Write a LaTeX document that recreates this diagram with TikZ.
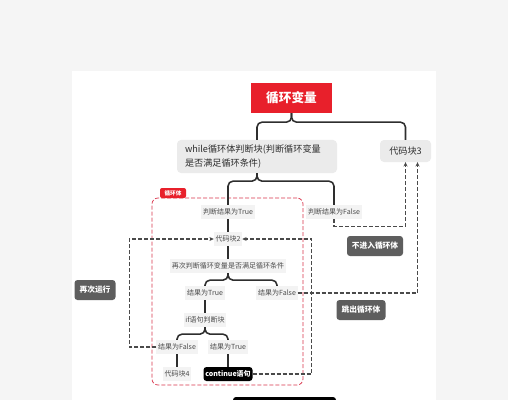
\documentclass[tikz,border=0pt]{standalone}
\usepackage{fontspec}
\setmainfont{Noto Sans CJK SC}
\usetikzlibrary{arrows.meta,positioning}
\definecolor{pagebg}{HTML}{F5F5F5}
\definecolor{loopred}{HTML}{E8202B}
\definecolor{boxgray}{HTML}{EBEBEB}
\definecolor{labelgray}{HTML}{F3F3F3}
\definecolor{ink}{HTML}{2E2E2E}
\definecolor{inkgray}{HTML}{4A4A4A}
\definecolor{cardgray}{HTML}{5E5E5E}
\definecolor{framered}{HTML}{D9344C}
\tikzset{
  titlebox/.style={fill=loopred,text=white,minimum width=40.5mm,minimum height=15mm,
                   inner sep=0pt,font=\fontsize{18}{20}\selectfont\bfseries},
  greybox/.style={fill=boxgray,rounded corners=2mm,inner sep=0pt,
                  font=\fontsize{13}{19}\selectfont,text=ink},
  steplabel/.style={fill=labelgray,minimum height=7mm,inner xsep=0.8mm,inner ysep=0pt,
                    font=\fontsize{10}{12}\selectfont,text=inkgray},
  darkcard/.style={fill=cardgray,text=white,rounded corners=1.5mm,minimum height=10mm,
                   inner sep=0pt,font=\fontsize{11}{13}\selectfont\bfseries},
  blackcard/.style={fill=black,text=white,rounded corners=1.5mm,minimum height=7mm,
                    minimum width=24.5mm,inner sep=0pt,font=\fontsize{10}{12}\selectfont\bfseries},
  looptag/.style={fill=loopred,text=white,rounded corners=1mm,minimum width=13mm,
                  minimum height=5mm,inner sep=0pt,font=\fontsize{8}{9}\selectfont\bfseries},
  loopframe/.style={draw=framered,dashed,dash pattern=on 2mm off 1mm,line width=1pt,
                    rounded corners=3mm,inner sep=0pt},
  tree/.style={draw=ink,line width=2.2pt,rounded corners=2.5mm},
  dasharr/.style={draw=inkgray,line width=1.6pt,dash pattern=on 2mm off 1mm,
                  -{Stealth[length=2.2mm,width=2mm]}},
  dashline/.style={draw=inkgray,line width=1.6pt,dash pattern=on 2mm off 1mm}
}
\begin{document}
\begin{tikzpicture}[x=0.5mm,y=-0.5mm]
  % page and panel
  \fill[pagebg] (0,0) rectangle (508,400);
  \useasboundingbox (0,0) rectangle (508,400);
  \fill[white] (72,71) rectangle (436,400);
  \begin{scope}
    \clip (0,0) rectangle (508,400);
    \fill[black,rounded corners=1.5mm] (233,397) rectangle (336,412);
  \end{scope}

  % top level
  \node[titlebox] (title) at (291.5,98) {循环变量};
  \node[greybox,minimum width=80mm,minimum height=16.5mm,text width=72mm,align=left]
    (whilebox) at (257,156.5) {while循环体判断块(判断循环变量\\是否满足循环条件)};
  \node[greybox,minimum width=25.5mm,minimum height=11mm] (code3) at (405.5,151) {代码块3};
  \draw[tree] (title.south) -- ++(0,9) -| (whilebox.north);
  \draw[tree] (title.south) -- ++(0,9) -| (code3.north);

  % loop body frame
  \node[loopframe,minimum width=75.5mm,minimum height=93.5mm] (loopbody) at (227.5,291.5) {};
  \node[looptag] (tag) at (173,193) {循环体};

  % inside the loop
  \node[steplabel] (t1) at (228,212) {判断结果为True};
  \node[steplabel] (f1) at (334,212) {判断结果为False};
  \node[steplabel] (code2) at (228,239) {代码块2};
  \node[steplabel] (recheck) at (228,266) {再次判断循环变量是否满足循环条件};
  \node[steplabel] (t2) at (205,293) {结果为True};
  \node[steplabel] (f2) at (277,293) {结果为False};
  \node[steplabel] (ifblock) at (205,320) {if语句判断块};
  \node[steplabel] (f3) at (177,347) {结果为False};
  \node[steplabel] (t3) at (228,347) {结果为True};
  \node[steplabel] (code4) at (177,374) {代码块4};
  \node[blackcard] (cont) at (228,374) {continue语句};

  \draw[tree] (whilebox.south) -- ++(0,8) -| (t1.north);
  \draw[tree] (whilebox.south) -- ++(0,8) -| (f1.north);
  \draw[tree] (t1) -- (code2);
  \draw[tree] (code2) -- (recheck);
  \draw[tree] (recheck.south) -- ++(0,7) -| (t2.north);
  \draw[tree] (recheck.south) -- ++(0,7) -| (f2.north);
  \draw[tree] (t2) -- (ifblock);
  \draw[tree] (ifblock.south) -- ++(0,7) -| (f3.north);
  \draw[tree] (ifblock.south) -- ++(0,7) -| (t3.north);
  \draw[tree] (f3) -- (code4);
  \draw[tree] (t3) -- (cont);

  % side notes
  \node[darkcard,minimum width=28mm] (noenter) at (375,246) {不进入循环体};
  \node[darkcard,minimum width=24.5mm] (jumpout) at (361,310) {跳出循环体};
  \node[darkcard,minimum width=20.5mm] (again) at (95,290) {再次运行};

  % dashed flows
  \draw[dasharr] (f1.south) -- ++(0,7) -| (code3.south);
  \draw[dasharr] (f2.east) -| ([xshift=6mm]code3.south);
  \draw[dasharr] (cont.east) -- ++(59,0) |- (code2.east);
  \draw[dasharr] (f3.west) -- ++(-27,0) |- (code2.west);
\end{tikzpicture}
\end{document}
